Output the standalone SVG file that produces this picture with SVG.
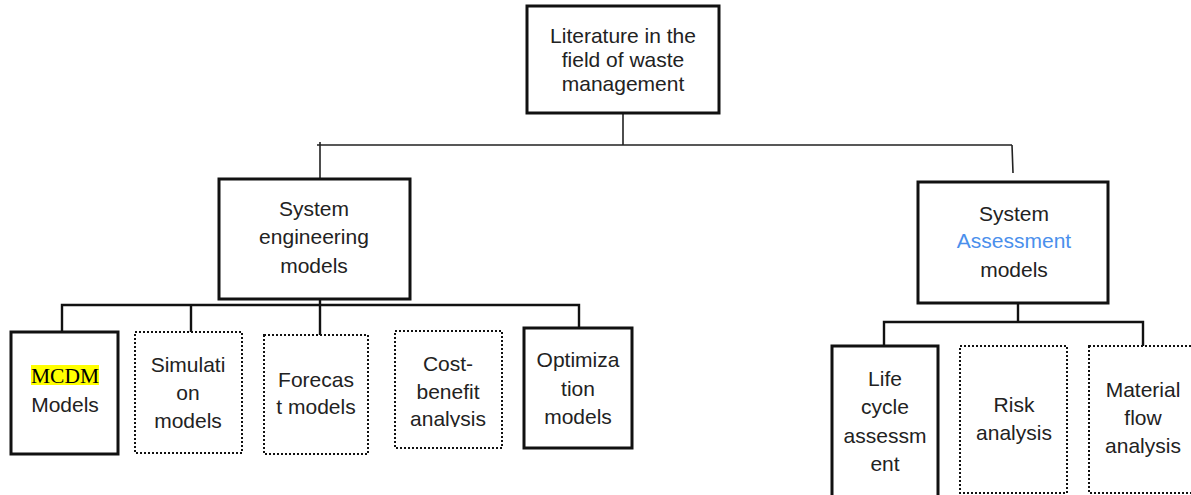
<svg xmlns="http://www.w3.org/2000/svg" width="1191" height="495" viewBox="0 0 1191 495">
<style>
.solid{fill:#fff;stroke:#111;stroke-width:3}
.dot{fill:#fff;stroke:#111;stroke-width:2;stroke-dasharray:2 2}
.t{font-family:"Liberation Sans",Arial,sans-serif;font-size:21px;fill:#222;text-anchor:middle}
.ser{font-family:"Liberation Serif","Times New Roman",serif;font-size:21.5px;fill:#000;text-anchor:middle}
.c{fill:none;stroke:#222;stroke-width:1.6}
.c2{fill:none;stroke:#111;stroke-width:2.4}
</style>
<defs>
<clipPath id="cbclip"><rect x="395" y="331" width="107" height="96"/></clipPath>
</defs>
<rect width="1191" height="495" fill="#fff"/>
<g id="connectors">
<path class="c" d="M623 113V145M317 145H1012M320 142V179M1012 145L1013 173"/>
<path class="c2" d="M62 332V305H579V328M191 305V332M320 283V335"/>
<path class="c2" d="M1018 298V322M884 346V322H1143V346"/>
</g>
<g id="root">
<rect class="solid" x="527" y="6" width="192" height="107"/>
<text class="t" x="623" y="43">Literature in the</text>
<text class="t" x="623" y="67">field of waste</text>
<text class="t" x="623" y="91">management</text>
</g>
<g id="syseng">
<rect class="solid" x="219" y="179" width="191" height="120"/>
<text class="t" x="314" y="216">System</text>
<text class="t" x="314" y="244">engineering</text>
<text class="t" x="314" y="273">models</text>
</g>
<g id="sysassess">
<rect class="solid" x="918" y="182" width="190" height="121"/>
<text class="t" x="1014" y="221">System</text>
<text class="t" x="1014" y="248" style="fill:#4a8fec">Assessment</text>
<text class="t" x="1014" y="277">models</text>
</g>
<g id="mcdm">
<rect class="solid" x="11" y="332" width="107" height="122"/>
<rect x="31" y="365" width="68" height="20" fill="#ffff00"/>
<text class="ser" x="65" y="383">MCDM</text>
<text class="t" x="65" y="412">Models</text>
</g>
<g id="simulation">
<rect class="dot" x="135" y="332" width="107" height="121"/>
<text class="t" x="188" y="372">Simulati</text>
<text class="t" x="188" y="400">on</text>
<text class="t" x="188" y="428">models</text>
</g>
<g id="forecast">
<rect class="dot" x="264" y="335" width="104" height="119"/>
<text class="t" x="316" y="387">Forecas</text>
<text class="t" x="316" y="414">t models</text>
</g>
<g id="costbenefit">
<rect class="dot" x="395" y="331" width="107" height="117"/>
<text class="t" x="448" y="371">Cost-</text>
<text class="t" x="448" y="399">benefit</text>
<text class="t" x="448" y="426" clip-path="url(#cbclip)">analysis</text>
</g>
<g id="optimization">
<rect class="solid" x="524" y="328" width="108" height="120"/>
<text class="t" x="578" y="367">Optimiza</text>
<text class="t" x="578" y="396">tion</text>
<text class="t" x="578" y="424">models</text>
</g>
<g id="lca">
<rect class="solid" x="832" y="346" width="106" height="160"/>
<text class="t" x="885" y="386">Life</text>
<text class="t" x="885" y="414">cycle</text>
<text class="t" x="885" y="443">assessm</text>
<text class="t" x="885" y="471">ent</text>
</g>
<g id="risk">
<rect class="dot" x="960" y="346" width="107" height="147"/>
<text class="t" x="1014" y="412">Risk</text>
<text class="t" x="1014" y="440">analysis</text>
</g>
<g id="mfa">
<rect class="dot" x="1089" y="346" width="110" height="147"/>
<text class="t" x="1143" y="397">Material</text>
<text class="t" x="1143" y="425">flow</text>
<text class="t" x="1143" y="453">analysis</text>
</g>
</svg>
